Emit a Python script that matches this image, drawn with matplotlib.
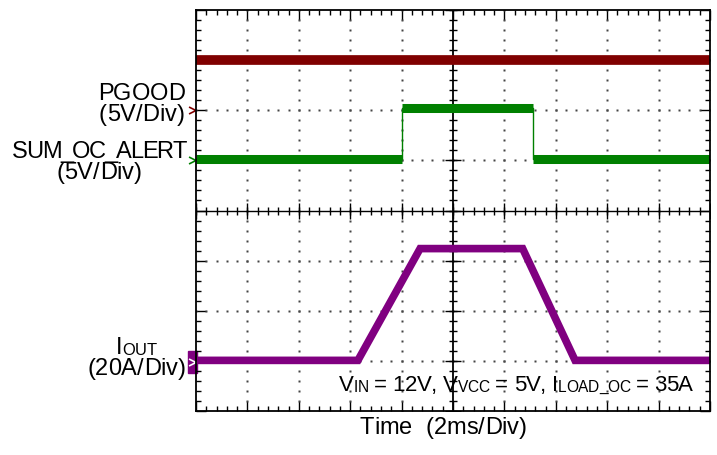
import numpy as np
import matplotlib
matplotlib.use('Agg')
import matplotlib.pyplot as plt
from matplotlib.path import Path
from matplotlib.patches import Rectangle

plt.rcParams['font.family'] = ['Liberation Sans', 'DejaVu Sans']

# time in ms, 2 ms/div, screen centre = 0
pgood_t = [-10, 10]
pgood_v = [5.0, 5.0]          # V, 5 V/div, ref at +2 div

alert_t = [-10, -2.0, -2.0, 3.12, 3.12, 10]
alert_v = [0.1, 0.1, 5.2, 5.2, 0.1, 0.1]   # V, 5 V/div, ref at +1 div

iout_t = [-10, -3.7, -1.28, 2.71, 4.75, 10]
iout_v = [0.8, 0.8, 45.4, 45.4, 0.8, 0.8]  # A, 20 A/div, ref at -3.03 div

ms_per_div = 2.0
pgood_scale, pgood_ref = 5.0, 2.0
alert_scale, alert_ref = 5.0, 1.0
iout_scale, iout_ref = 20.0, -3.03

red = '#800000'
green = '#008000'
purple = '#800080'

W, H = 717, 455
fig = plt.figure(figsize=(W / 100, H / 100), dpi=100)
ax = fig.add_axes([196/W, 44/H, 514/W, 401/H])
ax.set_xlim(-5, 5)
ax.set_ylim(-4, 4)

# dotted graticule
for gx in range(-4, 5):
    if gx == 0:
        continue
    ys = np.arange(-4, 4.01, 0.2)
    ax.plot(np.full_like(ys, gx), ys, ls='none', marker='s', ms=1.5, mec='none', mfc='#444444')
for gy in range(-3, 4):
    if gy == 0:
        continue
    xs = np.arange(-5, 5.01, 0.2)
    ax.plot(xs, np.full_like(xs, gy), ls='none', marker='s', ms=1.5, mec='none', mfc='#444444')

# centre cross with ticks
ax.axvline(0, color='black', lw=1.3)
ax.axhline(0, color='black', lw=1.0)
minor = np.arange(-4, 4.01, 0.2)
ax.plot(np.zeros_like(minor), minor, ls='none', marker='_', ms=6, mew=1, color='black')
ax.plot(np.zeros(9), np.arange(-4, 5), ls='none', marker='_', ms=12, mew=1, color='black')
minor = np.arange(-5, 5.01, 0.2)
ax.plot(minor, np.zeros_like(minor), ls='none', marker='|', ms=6, mew=1, color='black')
ax.plot(np.arange(-5, 6), np.zeros(11), ls='none', marker='|', ms=12, mew=1, color='black')

ax.set_xticks(range(-5, 6))
ax.set_yticks(range(-4, 5))
ax.set_xticks(np.arange(-5, 5.01, 0.2), minor=True)
ax.set_yticks(np.arange(-4, 4.01, 0.2), minor=True)
ax.tick_params(which='both', direction='in', top=True, right=True,
               labelbottom=False, labelleft=False, color='black')
ax.tick_params(which='major', length=7, width=1)
ax.tick_params(which='minor', length=3.5, width=1)
for s in ax.spines.values():
    s.set_linewidth(1.3)

# traces
px = np.array(pgood_t) / ms_per_div
py = np.array(pgood_v) / pgood_scale + pgood_ref
ax.plot(px, py, color=red, lw=7, solid_capstyle='butt')

gx = np.array(alert_t) / ms_per_div
gy = np.array(alert_v) / alert_scale + alert_ref
ax.plot(gx, gy, color=green, lw=1)
for i in range(len(gx) - 1):
    if gy[i] == gy[i + 1]:
        ax.plot(gx[i:i + 2], gy[i:i + 2], color=green, lw=6.5, solid_capstyle='butt')

ix = np.array(iout_t) / ms_per_div
iy = np.array(iout_v) / iout_scale + iout_ref
ax.plot(ix, iy, color=purple, lw=5.5, solid_joinstyle='miter', solid_capstyle='butt')

# channel reference markers
chev = Path([(-1, 1), (1, 0), (-1, -1)], [Path.MOVETO, Path.LINETO, Path.LINETO])
ax.plot([-5.07], [pgood_ref], marker=chev, ms=5, mfc='none', mec=red, mew=1.2, clip_on=False)
ax.plot([-5.07], [alert_ref], marker=chev, ms=5, mfc='none', mec=green, mew=1.2, clip_on=False)
ax.add_patch(Rectangle((-5.16, iout_ref - 0.22), 0.18, 0.44, color=purple, clip_on=False))
ax.plot([-5.08], [iout_ref], marker=chev, ms=5, mfc='none', mec='white', mew=1.2, clip_on=False)

# text with small subscripts, positions in pixels from top-left, y = baseline
renderer = fig.canvas.get_renderer()
SUB = 0.70

def width_of(s, size):
    t = fig.text(0, 0, 'x' + s + 'x', fontsize=size)
    w = t.get_window_extent(renderer).width
    t.set_text('xx')
    w -= t.get_window_extent(renderer).width
    t.remove()
    return w

def rich(x, y, parts, size, ha='center', track=0.0):
    # split into characters so letter spacing can be tightened a little
    chars = []
    for s, sub in parts:
        sz = size * SUB if sub else size
        for c in s:
            chars.append((c, sz, sub, width_of(c, sz) - track))
    total = sum(c[3] for c in chars) + track
    x0 = x - total if ha == 'right' else x - total / 2
    for c, sz, sub, w in chars:
        if c != ' ':
            yy = y + (1 if sub else 0)
            fig.text(x0 / W, 1 - yy / H, c, fontsize=sz, ha='left', va='baseline')
        x0 += w

fs = 17
rich(141.5, 100, [('PGOOD', False)], fs)
rich(141.5, 121, [('(5V/Div)', False)], fs)
rich(99, 158, [('SUM_OC_ALERT', False)], fs, track=1.4)
rich(99, 179, [('(5V/Div)', False)], fs)
rich(136.5, 354, [('I', False), ('OUT', True)], fs)
rich(136.5, 375, [('(20A/Div)', False)], fs)
rich(443.5, 434, [('Time  (2ms/Div)', False)], fs)
rich(693, 391, [('V', False), ('IN', True), (' = 12V, V', False), ('VCC', True),
                (' = 5V, I', False), ('LOAD_OC', True), (' = 35A', False)], 16, ha='right', track=0.3)

fig.savefig('out.png', dpi=100)
